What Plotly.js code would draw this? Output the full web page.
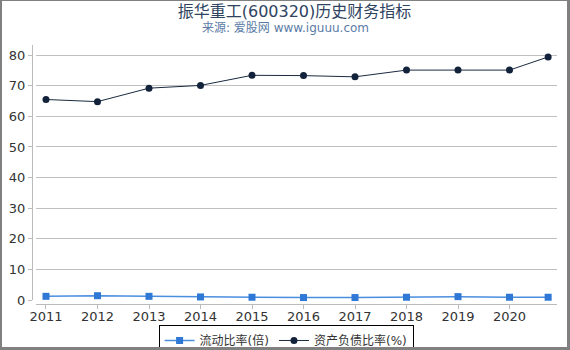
<!DOCTYPE html>
<html>
<head>
<meta charset="utf-8">
<script src="https://cdn.plot.ly/plotly-3.0.1.min.js"></script>
<style>
html,body{margin:0;padding:0;background:#fff;}
#wrap{position:relative;width:570px;height:350px;}
#chart{width:570px;height:350px;}
#frame{position:absolute;left:0;top:0;width:570px;height:350px;box-sizing:border-box;border-top:1px solid #808080;border-left:2px solid #808080;border-right:3px solid #808080;border-bottom:3px solid #808080;pointer-events:none;}
</style>
</head>
<body>
<div id="wrap"><div id="chart"></div><div id="frame"></div></div>
<script>
const years = [2011, 2012, 2013, 2014, 2015, 2016, 2017, 2018, 2019, 2020, 2020.75];
const tickVals = [2011, 2012, 2013, 2014, 2015, 2016, 2017, 2018, 2019, 2020];
const tickText = ["2011", "2012", "2013", "2014", "2015", "2016", "2017", "2018", "2019", "2020"];
const currentRatio = [1.2, 1.4, 1.2, 1.0, 0.9, 0.8, 0.8, 0.9, 1.1, 0.9, 0.9];
const debtRatio = [65.5, 64.8, 69.2, 70.1, 73.4, 73.3, 72.9, 75.1, 75.1, 75.1, 79.4];
const seriesNames = ["流动比率(倍)", "资产负债比率(%)"];

const font = "DejaVu Sans, Noto Sans CJK SC, sans-serif";

const traces = [
  {x: years, y: currentRatio, name: seriesNames[0], type: "scatter", mode: "lines+markers",
   line: {color: "#4a8ee0", width: 1.5}, marker: {symbol: "square", size: 7, color: "#2f78d6"}, cliponaxis: false},
  {x: years, y: debtRatio, name: seriesNames[1], type: "scatter", mode: "lines+markers",
   line: {color: "#1b2a40", width: 1}, marker: {symbol: "circle", size: 7, color: "#12223a"}, cliponaxis: false}
];

const xRange = [2010.806, 2020.922];

const layout = {
  width: 570, height: 350,
  margin: {l: 32, r: 13, t: 45, b: 46, autoexpand: false},
  paper_bgcolor: "#fff", plot_bgcolor: "#fff",
  font: {family: font, size: 13, color: "#333"},
  title: {text: "振华重工(600320)历史财务指标", x: 0.5, xref: "paper", xanchor: "center", y: 0.968, yref: "container", yanchor: "middle",
          font: {family: font, size: 16, color: "#2e4360"}},
  annotations: [{text: "来源: 爱股网 www.iguuu.com", xref: "paper", yref: "paper", x: 0.482, y: 1.066, xanchor: "center", yanchor: "middle",
                 showarrow: false, font: {family: font, size: 12, color: "#5b7ba6"}}],
  xaxis: {range: xRange, domain: [4/525, 1], anchor: "free", position: 0,
          tickvals: tickVals, ticktext: tickText, showgrid: false, zeroline: false, automargin: false,
          showline: true, linecolor: "#bbb", linewidth: 1, ticks: "",
          tickfont: {family: font, size: 13, color: "#333"}},
  xaxis2: {range: xRange, domain: [4/525, 1], anchor: "free", position: 0, overlaying: "x",
          tickvals: tickVals, showticklabels: false, showgrid: false, zeroline: false, automargin: false,
          showline: false, ticks: "outside", ticklen: 4, tickcolor: "#bbb", side: "bottom"},
  yaxis: {range: [0, 83.3], domain: [4/259, 1], anchor: "free", position: 0, automargin: false,
          tickvals: [0, 10, 20, 30, 40, 50, 60, 70, 80], showgrid: true, gridcolor: "#c0c0c0", gridwidth: 1,
          zeroline: false, showline: true, linecolor: "#bbb", linewidth: 1, ticks: "outside", ticklen: 4, tickcolor: "#bbb",
          tickfont: {family: font, size: 13, color: "#333"}},
  showlegend: true,
  legend: {orientation: "h", x: 0.484, xanchor: "center", y: -0.081, yanchor: "top",
           bordercolor: "#000", borderwidth: 1, bgcolor: "#fff",
           font: {family: font, size: 12, color: "#333"}, itemwidth: 30, tracegroupgap: 0}
};

traces.push({x: [xRange[0]], y: [null], xaxis: "x2", yaxis: "y", showlegend: false, hoverinfo: "skip", type: "scatter", mode: "lines"});

Plotly.newPlot("chart", traces, layout, {displayModeBar: false, staticPlot: true});
</script>
</body>
</html>
